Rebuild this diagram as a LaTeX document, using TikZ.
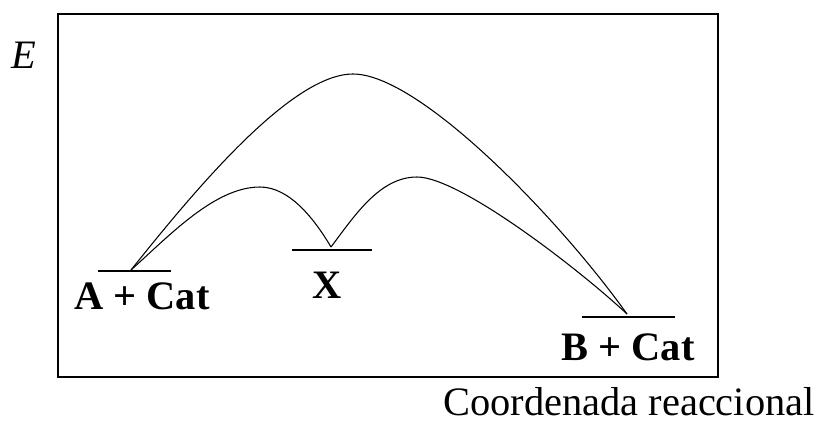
\documentclass[tikz,border=0pt]{standalone}
\usepackage{fontspec}
\setmainfont{Liberation Serif}
\usepackage{tikz}
\usetikzlibrary{positioning}

\begin{document}
\begin{tikzpicture}[x=0.02cm,y=-0.02cm,
frame/.style={draw,line width=1.1pt},
lvl/.style={line width=1.2pt},
path/.style={line width=0.6pt},
lab/.style={inner sep=0pt,font=\fontsize{23}{26}\selectfont\bfseries},
axis/.style={inner sep=0pt,font=\fontsize{23}{26}\selectfont}]
\useasboundingbox (0,0) rectangle (821,423);
\draw[frame] (58,14) rectangle (718,377);
% energy levels
\coordinate (a) at (131,270);
\coordinate (x) at (331,247);
\coordinate (b) at (627,314);
\draw[lvl] (98,271) -- (171,271);
\draw[lvl] (292,250) -- (372,250);
\draw[lvl] (582,317) -- (675,317);
% transition states
\coordinate (ts0) at (353,74);
\coordinate (ts1) at (260,187);
\coordinate (ts2) at (417,177);
% uncatalysed path
\draw[path] (a) .. controls (191,195) and (290,74) .. (ts0)
  .. controls (420,74) and (560,220) .. (b);
% catalysed path
\draw[path] (a) .. controls (170,235) and (215,187) .. (ts1)
  .. controls (290,187) and (315,220) .. (x);
\draw[path] (x) .. controls (355,215) and (380,177) .. (ts2)
  .. controls (460,177) and (580,270) .. (b);
\node[lab,anchor=base] (la) at (142,309) {A + Cat};
\node[lab,anchor=base] (lx) at (327,298) {X};
\node[lab,anchor=base] (lb) at (628,360) {B + Cat};
\node[axis,anchor=base] (le) at (24,68) {\itshape E};
\node[axis,anchor=base east] (lc) at (815,415) {Coordenada reaccional};
\end{tikzpicture}
\end{document}
